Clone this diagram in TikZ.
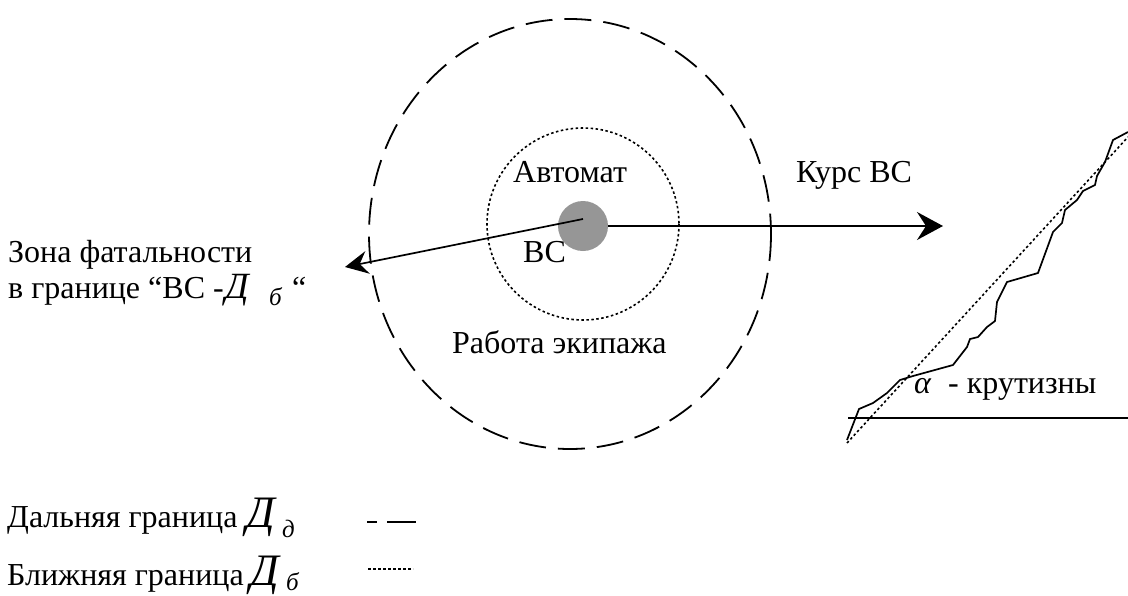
\documentclass[tikz,border=0pt]{standalone}
\usepackage{fontspec}
\setmainfont{Liberation Serif}
\usetikzlibrary{arrows.meta}
\definecolor{discgray}{RGB}{150,150,150}
\tikzset{
  txt/.style={anchor=base west, inner sep=0pt, font=\fontsize{32}{32}\selectfont},
  bigd/.style={anchor=base west, inner sep=0pt, font=\fontsize{45}{45}\selectfont\itshape},
  midd/.style={anchor=base west, inner sep=0pt, font=\fontsize{37}{37}\selectfont\itshape},
  subd/.style={anchor=base west, inner sep=0pt, font=\fontsize{25}{25}\selectfont\itshape},
  farline/.style={line width=1.8pt, dash pattern=on 27pt off 12pt},
  nearline/.style={line width=1.6pt, dash pattern=on 2.5pt off 2.5pt},
  arr/.style={line width=1.7pt, -{Stealth[length=26pt, width=28pt, inset=9pt]}},
  arrsmall/.style={line width=1.7pt, -{Stealth[length=23pt, width=23pt, inset=8pt]}},
}
\begin{document}
\begin{tikzpicture}[x=1pt, y=-1pt]
\useasboundingbox (0,0) rectangle (1128,595);
% zones
\draw[farline] (570,234) ellipse [x radius=201, y radius=215];
\draw[nearline] (583,224) circle [radius=96];
\node[circle, fill=discgray, minimum size=50pt, inner sep=0pt] (vs) at (583,226) {};
% connectors
\coordinate (course) at (943,226);
\coordinate (fatal) at (345,267);
\coordinate (vsc) at (583,219);
\draw[arr] (vs.east) -- (course);
\draw[arrsmall] (vsc) -- (fatal);
% labels
\node[txt] (auto) at (513,182) {Автомат};
\node[txt] (vslbl) at (523,262) {ВС};
\node[txt] (kurs) at (796,182) {Курс ВС};
\node[txt] (crew) at (452,353) {Работа экипажа};
\node[txt] (zona1) at (8,262) {Зона фатальности};
\node[txt] (zona2) at (8,298) {в границе “ВС -};
\node[midd] (zonaD) at (225,298) {Д};
\node[subd] (zonab) at (269,305) {б};
\node[txt] (zonaq) at (292,298) {“};
% slope
\draw[line width=1.7pt] (848,418) -- (1128,418);
\draw[nearline] (847,443) -- (1128,137);
\draw[line width=1.7pt, line join=round] (847,440) -- (859,409) -- (873,403) -- (887,393) -- (900,380) -- (913,376) -- (953,365) -- (967,347) -- (970,339) -- (978,337) -- (987,327) -- (995,321) -- (997,302) -- (1007,282) -- (1038,273) -- (1053,232) -- (1062,223) -- (1065,210) -- (1077,200) -- (1083,191) -- (1095,185) -- (1097,176) -- (1105,162) -- (1113,140) -- (1128,132);
\node[txt, font=\fontsize{32}{32}\selectfont\itshape] (alpha) at (914,393) {α};
\node[txt] (krut) at (948,393) {- крутизны};
% legend
\node[txt] (leg1) at (7,527) {Дальняя граница};
\node[bigd] (leg1D) at (246,527) {Д};
\node[subd] (leg1d) at (282,537) {д};
\node[txt] (leg2) at (7,585) {Ближняя граница};
\node[bigd] (leg2D) at (250,585) {Д};
\node[subd] (leg2b) at (286,590) {б};
\draw[line width=2.7pt] (367,522) -- (377,522);
\draw[line width=2.7pt] (387,522) -- (416,522);
\draw[line width=1.6pt, dash pattern=on 2.5pt off 2.5pt] (368,569) -- (413,569);
\end{tikzpicture}
\end{document}
